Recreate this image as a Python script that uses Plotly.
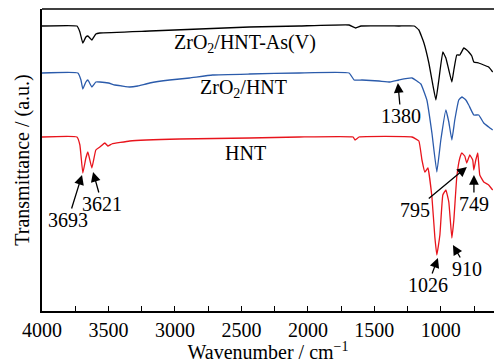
import plotly.graph_objects as go

# Wavenumbers (cm-1) and transmittance (a.u.)
wn_black = [4000, 3737, 3715, 3693, 3670, 3655, 3625, 3595, 3565, 3190, 2815, 2440, 2065, 1690, 1640, 1600,
            1315, 1200, 1165, 1127, 1090, 1060, 1037, 1015, 985, 962, 940, 917, 902, 880, 857, 827, 805, 790,
            767, 752, 715, 677, 640, 610]
t_black = [285, 285, 279, 268, 274, 275, 271, 277, 278, 280, 282, 284, 285, 286, 283, 285,
           285, 285, 281, 268, 248, 226, 211, 231, 259, 253, 241, 229, 241, 256, 256, 263, 261, 259,
           255, 249, 248, 246, 244, 239]

wn_blue = [4000, 3730, 3707, 3693, 3670, 3655, 3625, 3595, 3565, 3500, 3452, 3400, 3340, 3280, 3190, 3040,
           2890, 2717, 2440, 2065, 1690, 1652, 1593, 1465, 1382, 1315, 1217, 1150, 1105, 1067, 1030, 1000,
           962, 940, 917, 895, 865, 842, 812, 790, 752, 715, 677, 640, 610]
t_blue = [238, 238, 231, 222, 229, 231, 224, 229, 229, 228, 226, 225, 224, 225, 228, 231,
          233, 236, 237, 238, 238, 231, 231, 230, 229, 231, 233, 227, 211, 178, 139, 171,
          201, 189, 171, 191, 211, 214, 211, 206, 196, 196, 188, 184, 181]

wn_red = [4000, 3737, 3715, 3693, 3670, 3655, 3625, 3595, 3565, 3527, 3505, 3475, 3340, 2965, 2440, 2065,
          1660, 1645, 1615, 1217, 1165, 1142, 1120, 1097, 1067, 1045, 1030, 1007, 985, 962, 940, 917, 902,
          880, 857, 842, 820, 805, 782, 760, 752, 737, 722, 707, 677, 640, 610]
t_red = [174, 174, 166, 138, 153, 159, 143, 161, 164, 168, 165, 167, 170, 172, 173, 174,
         174, 171, 174, 174, 170, 151, 139, 143, 114, 74, 56, 76, 116, 121, 109, 73, 91,
         134, 153, 158, 155, 148, 156, 151, 141, 151, 158, 136, 129, 126, 121]

series_names = ["ZrO<sub>2</sub>/HNT-As(V)", "ZrO<sub>2</sub>/HNT", "HNT"]
series_colors = ["#000000", "#2b5bab", "#e8141c"]

# peak labels: (label, wavenumber of arrow tip, transmittance at tip, text dx, text dy)
peak_labels = ["3693", "3621", "1380", "1026", "910", "795", "749"]
peak_wn = [3699, 3616, 1323, 1022, 909, 804, 751]
peak_t = [136, 139, 228, 53, 66, 144, 136]
peak_dx = [-14, 9, 3, -10, 14, -52, 0]
peak_dy = [45, 32, 33, 27, 24, 43, 29]

FONT = "Liberation Serif"

fig = go.Figure()
for wn, t, name, col in zip([wn_black, wn_blue, wn_red], [t_black, t_blue, t_red], series_names, series_colors):
    fig.add_trace(go.Scatter(x=wn, y=t, mode="lines", name=name,
                             line=dict(color=col, width=1.3, shape="spline", smoothing=0.3),
                             showlegend=False))

# curve labels
label_pos = [(2473, 268), (2488, 223), (2473, 158)]
for name, (x, y) in zip(series_names, label_pos):
    fig.add_annotation(x=x, y=y, text=name, showarrow=False,
                       font=dict(family=FONT, size=20, color="black"))

for lab, x, y, dx, dy in zip(peak_labels, peak_wn, peak_t, peak_dx, peak_dy):
    fig.add_annotation(x=x, y=y, text=lab, showarrow=True, ax=dx, ay=dy,
                       arrowhead=2, arrowsize=1.5, arrowwidth=1.3, arrowcolor="black",
                       borderpad=0,
                       font=dict(family=FONT, size=20, color="black"))

fig.update_layout(
    width=494, height=363,
    margin=dict(l=42, r=0, t=9, b=52),
    paper_bgcolor="white", plot_bgcolor="white",
    font=dict(family=FONT, size=20, color="black"),
)
fig.update_xaxes(
    range=[4000, 600], tickvals=[4000, 3500, 3000, 2500, 2000, 1500, 1000],
    ticks="inside", ticklen=5, tickwidth=1.3, tickcolor="black",
    minor=dict(tickvals=[3750, 3250, 2750, 2250, 1750, 1250, 750], ticks="inside",
               ticklen=5, tickwidth=1.3, tickcolor="black"),
    showline=True, linecolor="black", linewidth=2, mirror=False,
    showgrid=False, zeroline=False,
    tickfont=dict(family=FONT, size=20, color="black"),
    title=dict(text="Wavenumber / cm<sup>−1</sup>", font=dict(family=FONT, size=20), standoff=0),
)
fig.update_yaxes(
    range=[0, 302], showticklabels=False, ticks="",
    showline=True, linecolor="black", linewidth=2,
    showgrid=False, zeroline=False,
    title=dict(text="Transmittance / (a.u.)", font=dict(family=FONT, size=20), standoff=5),
)
# top frame line
fig.add_shape(type="line", xref="paper", yref="paper", x0=0, x1=1, y0=1, y1=1,
              line=dict(color="black", width=1.5))

fig.write_html("out.html")
